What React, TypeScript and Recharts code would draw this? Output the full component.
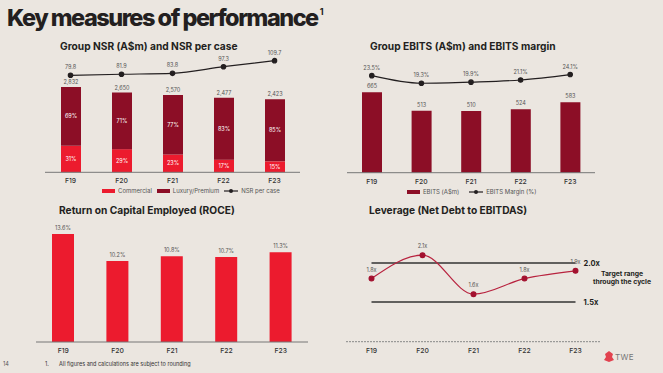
import React from 'react';
import {
  Bar,
  ComposedChart,
  LabelList,
  Line,
  ReferenceLine,
  XAxis,
  YAxis,
} from 'recharts';

const years = ['F19', 'F20', 'F21', 'F22', 'F23'];
const nsrTotal = [2832, 2650, 2570, 2477, 2423];
const commercialPct = [31, 29, 23, 17, 15];
const luxuryPct = [69, 71, 77, 83, 85];
const nsrPerCase = [79.8, 81.9, 83.8, 97.3, 109.7];
const ebits = [665, 513, 510, 524, 583];
const ebitsMargin = [23.5, 19.3, 19.9, 21.1, 24.1];
const roce = [13.6, 10.2, 10.8, 10.7, 11.3];
const leverage = [1.8, 2.1, 1.6, 1.8, 1.9];
const targetRange = [1.5, 2.0];

const RED = '#EC1B2E';
const DARK_RED = '#8C0E26';
const INK = '#231F20';
const BG = '#EBE6E0';

const nsrData = years.map((y, i) => {
  const commercial = (nsrTotal[i] * commercialPct[i]) / 100;
  return {
    year: y,
    commercial,
    luxury: nsrTotal[i] - commercial,
    comPct: commercialPct[i],
    luxPct: luxuryPct[i],
    total: nsrTotal[i],
    nsrCase: nsrPerCase[i],
  };
});
const ebitsData = years.map((y, i) => ({ year: y, ebits: ebits[i], margin: ebitsMargin[i] }));
const roceData = years.map((y, i) => ({ year: y, roce: roce[i] }));
const levData = years.map((y, i) => ({ year: y, lev: leverage[i] }));

const tick = { fill: '#333', fontSize: 6.8, fontWeight: 500 };
const small = { fill: '#555', fontSize: 5.5 };

function Swatch({ color }: { color: string }) {
  return <span style={{ display: 'inline-block', width: 13, height: 4, background: color, marginRight: 3 }} />;
}

function LineKey() {
  return (
    <svg width={14} height={6} style={{ marginRight: 3 }}>
      <line x1={0} y1={3} x2={14} y2={3} stroke={INK} strokeWidth={1.2} />
      <circle cx={7} cy={3} r={2} fill={INK} />
    </svg>
  );
}

function Title({ x, y, children }: { x: number; y: number; children: React.ReactNode }) {
  return (
    <div style={{ position: 'absolute', left: x, top: y, fontSize: 10.2, fontWeight: 700, color: INK, whiteSpace: 'nowrap' }}>
      {children}
    </div>
  );
}

const legendText = { fontSize: 6, color: '#555', marginRight: 5 };

export default function App() {
  return (
    <div
      style={{
        position: 'relative',
        width: 663,
        height: 373,
        background: BG,
        overflow: 'hidden',
        fontFamily: 'Inter, "Noto Sans", sans-serif',
      }}
    >
      <style>{`body{margin:0}.recharts-surface{overflow:visible}`}</style>

      <div style={{ position: 'absolute', left: 7, top: 3, fontSize: 23.5, fontWeight: 800, color: INK, letterSpacing: -1.5, whiteSpace: 'nowrap' }}>
        Key measures of performance
        <sup style={{ fontSize: 9, fontWeight: 700, verticalAlign: 'top', position: 'relative', top: 3, marginLeft: 2 }}>1</sup>
      </div>

      {/* NSR */}
      <Title x={60} y={40}>Group NSR (A$m) and NSR per case</Title>
      <div style={{ position: 'absolute', left: 45, top: 50 }}>
        <ComposedChart width={255} height={140} data={nsrData} margin={{ top: 5, right: 0, left: 0, bottom: 0 }}>
          <XAxis dataKey="year" height={17.7} tickLine={false} tickSize={0} tickMargin={6} tick={tick} axisLine={{ stroke: '#777', strokeWidth: 1 }} />
          <YAxis yAxisId="l" hide domain={[0, 3897]} />
          <YAxis yAxisId="r" hide domain={[-118, 121.2]} />
          <Bar yAxisId="l" dataKey="commercial" stackId="a" fill={RED} barSize={20} isAnimationActive={false}>
            <LabelList dataKey="comPct" position="center" formatter={(v: any) => `${v}%`} fill="#fff" fontSize={5.5} />
          </Bar>
          <Bar yAxisId="l" dataKey="luxury" stackId="a" fill={DARK_RED} barSize={20} isAnimationActive={false}>
            <LabelList dataKey="luxPct" position="center" formatter={(v: any) => `${v}%`} fill="#fff" fontSize={5.5} />
            <LabelList dataKey="total" position="top" offset={3} formatter={(v: any) => Number(v).toLocaleString('en-US')} {...small} />
          </Bar>
          <Line yAxisId="r" dataKey="nsrCase" type="monotone" stroke={INK} strokeWidth={1.2} dot={{ r: 2.2, fill: INK, stroke: INK }} isAnimationActive={false}>
            <LabelList dataKey="nsrCase" position="top" offset={6} formatter={(v: any) => Number(v).toFixed(1)} {...small} />
          </Line>
        </ComposedChart>
      </div>
      <div style={{ position: 'absolute', left: 102, top: 187, display: 'flex', alignItems: 'center' }}>
        <Swatch color={RED} />
        <span style={legendText}>Commercial</span>
        <Swatch color={DARK_RED} />
        <span style={legendText}>Luxury/Premium</span>
        <LineKey />
        <span style={legendText}>NSR per case</span>
      </div>

      {/* EBITS */}
      <Title x={370} y={40}>Group EBITS (A$m) and EBITS margin</Title>
      <div style={{ position: 'absolute', left: 347, top: 50 }}>
        <ComposedChart width={248} height={140} data={ebitsData} margin={{ top: 5, right: 0, left: 0, bottom: 0 }}>
          <XAxis dataKey="year" height={17.3} tickLine={false} tickSize={0} tickMargin={6} tick={tick} axisLine={{ stroke: '#777', strokeWidth: 1 }} />
          <YAxis yAxisId="l" hide domain={[0, 973.5]} />
          <YAxis yAxisId="r" hide domain={[-30.1, 34.9]} />
          <Bar yAxisId="l" dataKey="ebits" fill={DARK_RED} barSize={20} isAnimationActive={false}>
            <LabelList dataKey="ebits" position="top" offset={4} {...small} />
          </Bar>
          <Line yAxisId="r" dataKey="margin" type="monotone" stroke={INK} strokeWidth={1.2} dot={{ r: 2.2, fill: INK, stroke: INK }} isAnimationActive={false}>
            <LabelList dataKey="margin" position="top" offset={6} formatter={(v: any) => `${Number(v).toFixed(1)}%`} {...small} />
          </Line>
        </ComposedChart>
      </div>
      <div style={{ position: 'absolute', left: 407, top: 188, display: 'flex', alignItems: 'center' }}>
        <Swatch color={DARK_RED} />
        <span style={{ ...legendText, marginRight: 10 }}>EBITS (A$m)</span>
        <LineKey />
        <span style={legendText}>EBITS Margin (%)</span>
      </div>

      {/* ROCE */}
      <Title x={59} y={204}>Return on Capital Employed (ROCE)</Title>
      <div style={{ position: 'absolute', left: 36, top: 215 }}>
        <ComposedChart width={272} height={140} data={roceData} margin={{ top: 5, right: 0, left: 0, bottom: 0 }}>
          <XAxis dataKey="year" height={13} tickLine={false} tickSize={0} tickMargin={6} tick={tick} axisLine={{ stroke: '#777', strokeWidth: 1 }} />
          <YAxis hide domain={[0, 15.37]} />
          <Bar dataKey="roce" fill={RED} barSize={22} isAnimationActive={false}>
            <LabelList dataKey="roce" position="top" offset={4} formatter={(v: any) => `${Number(v).toFixed(1)}%`} {...small} />
          </Bar>
        </ComposedChart>
      </div>

      {/* Leverage */}
      <Title x={369} y={204}>Leverage (Net Debt to EBITDAS)</Title>
      <div style={{ position: 'absolute', left: 346, top: 215 }}>
        <ComposedChart width={255} height={140} data={levData} margin={{ top: 5, right: 0, left: 0, bottom: 0 }}>
          <XAxis dataKey="year" height={13.3} padding={{ left: 25.5, right: 25.5 }} tickLine={false} tickSize={0} tickMargin={6} tick={tick} axisLine={{ stroke: '#888', strokeWidth: 1, strokeDasharray: '2 1' }} />
          <YAxis hide domain={[0.991, 2.551]} />
          {targetRange.map((v) => (
            <ReferenceLine
              key={v}
              segment={[{ x: 'F19', y: v }, { x: 'F23', y: v }]}
              stroke="#333"
              strokeWidth={1.4}
              label={{ value: `${v.toFixed(1)}x`, position: 'right', offset: 8, fill: INK, fontSize: 7.5, fontWeight: 700 }}
            />
          ))}
          <Line dataKey="lev" type="monotone" stroke="#B8233F" strokeWidth={1.2} dot={{ r: 2.4, fill: '#A3112F', stroke: '#A3112F' }} isAnimationActive={false}>
            <LabelList dataKey="lev" position="top" offset={7} formatter={(v: any) => `${Number(v).toFixed(1)}x`} {...small} />
          </Line>
        </ComposedChart>
      </div>
      <div style={{ position: 'absolute', left: 588, top: 270, width: 68, textAlign: 'center', fontSize: 6.8, fontWeight: 700, color: INK, lineHeight: '8px' }}>
        Target range through the cycle
      </div>

      {/* footer */}
      <div style={{ position: 'absolute', left: 3, top: 361, fontSize: 5.5, color: '#555' }}>14</div>
      <div style={{ position: 'absolute', left: 45, top: 361, fontSize: 5.5, color: '#333' }}>1.</div>
      <div style={{ position: 'absolute', left: 59, top: 361, fontSize: 5.5, color: '#333' }}>All figures and calculations are subject to rounding</div>
      <div style={{ position: 'absolute', left: 604, top: 351, display: 'flex', alignItems: 'center' }}>
        <svg width={10} height={11}>
          <path d="M5 0 L9 3 L8 6 L10 9 L5 11 L0 9 L2 6 L1 3 Z" fill="#E2424F" />
        </svg>
        <span style={{ fontSize: 8, color: '#777', marginLeft: 1, letterSpacing: 0.3 }}>TWE</span>
      </div>
    </div>
  );
}
